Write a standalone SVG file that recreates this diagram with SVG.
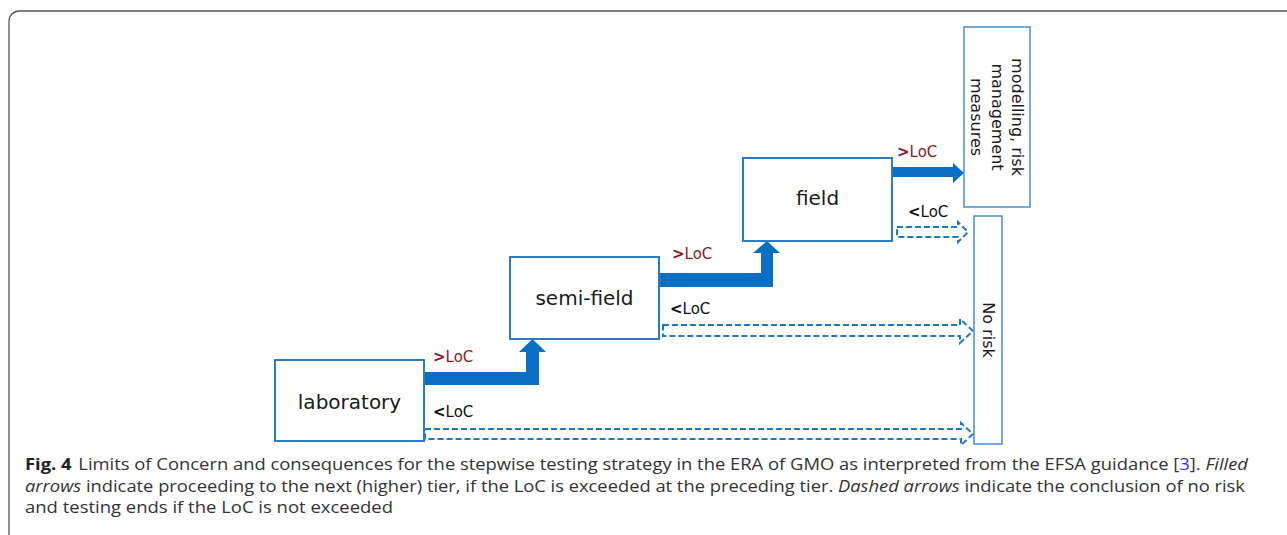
<svg xmlns="http://www.w3.org/2000/svg" width="1287" height="535" viewBox="0 0 1287 535">
<style>
.box{fill:#fff;stroke:#2B7BC9;stroke-width:2}
.obox{fill:#fff;stroke:#4A8FD4;stroke-width:1.5}
.lbl{font-family:"DejaVu Sans",Verdana,sans-serif;font-size:20px;fill:#1a1a1a}
.rot{font-family:"DejaVu Sans",Verdana,sans-serif;font-size:16px;fill:#1a1a1a}
.loc{font-family:"DejaVu Sans",Verdana,sans-serif;font-size:15px}
.up{fill:#8B1C24}
.dn{fill:#111}
.fill{fill:#0A6FC4;stroke:none}
.dash{fill:none;stroke:#1E78C8;stroke-width:2;stroke-dasharray:6 3}
.cap{font-family:"Open Sans","Noto Sans",sans-serif;font-size:16.5px;fill:#333}
</style>
<rect x="9" y="11" width="1300" height="540" rx="10" ry="10" fill="none" stroke="#555" stroke-width="1.3"/>
<g id="connectors">
<polygon class="fill" points="424,372 526,372 526,352 519,352 532.5,339 546,352 539,352 539,385 424,385"/>
<polygon class="fill" points="659,273 761,273 761,253 753,253 767,241 780,253 773,253 773,287 659,287"/>
<polygon class="fill" points="892,167 953,167 953,163 964,173 953,183 953,177 892,177"/>
<path class="dash" d="M897,227 H958 V222 L968,232 L958,242 V237 H897 Z"/>
<path class="dash" d="M663,325 H960 V319 L973,331 L960,343 V336 H663 Z"/>
<path class="dash" d="M425,429 H961 V423 L973,434 L961,445 V439 H425 Z"/>
<text class="loc up" x="433" y="362"><tspan font-weight="bold">&gt;</tspan>LoC</text>
<text class="loc dn" x="433" y="417"><tspan font-weight="bold">&lt;</tspan>LoC</text>
<text class="loc up" x="672" y="259"><tspan font-weight="bold">&gt;</tspan>LoC</text>
<text class="loc dn" x="670" y="314"><tspan font-weight="bold">&lt;</tspan>LoC</text>
<text class="loc up" x="897" y="157"><tspan font-weight="bold">&gt;</tspan>LoC</text>
<text class="loc dn" x="908" y="217"><tspan font-weight="bold">&lt;</tspan>LoC</text>
</g>
<g id="laboratory">
<rect class="box" x="275" y="360" width="149" height="81"/>
<text class="lbl" x="349.5" y="409" text-anchor="middle">laboratory</text>
</g>
<g id="semi-field">
<rect class="box" x="510" y="257" width="149" height="82"/>
<text class="lbl" x="584.5" y="305" text-anchor="middle">semi-field</text>
</g>
<g id="field">
<rect class="box" x="743" y="158" width="149" height="83"/>
<text class="lbl" x="817.5" y="205" text-anchor="middle">field</text>
</g>
<g id="modelling">
<rect class="obox" x="964" y="27" width="66" height="180"/>
<text class="rot" transform="translate(1012,117) rotate(90)" text-anchor="middle"><tspan x="0" y="0">modelling, risk</tspan><tspan x="0" y="20.5">management</tspan><tspan x="0" y="41">measures</tspan></text>
</g>
<g id="no-risk">
<rect class="obox" x="974" y="216" width="28" height="228"/>
<text class="rot" transform="translate(983,330) rotate(90)" text-anchor="middle">No risk</text>
</g>
<g id="caption">
<text class="cap" x="25" y="470" textLength="1223" lengthAdjust="spacingAndGlyphs"><tspan font-weight="bold" fill="#222">Fig. 4</tspan><tspan dx="6">Limits of Concern and consequences for the stepwise testing strategy in the ERA of GMO as interpreted from the EFSA guidance [</tspan><tspan fill="#3333ee">3</tspan><tspan>]. </tspan><tspan font-style="italic">Filled</tspan></text>
<text class="cap" x="25" y="492" textLength="1220" lengthAdjust="spacingAndGlyphs"><tspan font-style="italic">arrows</tspan><tspan> indicate proceeding to the next (higher) tier, if the LoC is exceeded at the preceding tier. </tspan><tspan font-style="italic">Dashed arrows</tspan><tspan> indicate the conclusion of no risk</tspan></text>
<text class="cap" x="25" y="513" textLength="368" lengthAdjust="spacingAndGlyphs">and testing ends if the LoC is not exceeded</text>
</g>
</svg>
